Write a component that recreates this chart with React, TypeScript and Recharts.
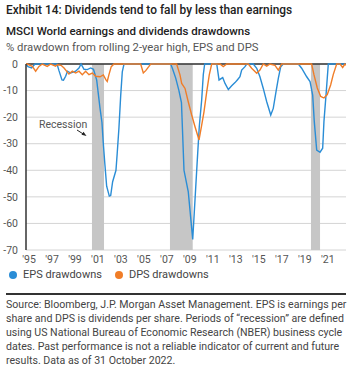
import React from "react";
import {
  LineChart,
  Line,
  XAxis,
  YAxis,
  CartesianGrid,
  ReferenceArea,
  ReferenceLine,
} from "recharts";

// decimal years
const epsYears = [
  1994.74, 1994.91, 1995.23, 1995.52, 1997.44, 1997.61, 1997.87, 1998.0, 1998.19,
  1998.35, 1998.63, 1999.06, 1999.35, 1999.53, 1999.79, 2000.07, 2000.37, 2000.61,
  2000.89, 2001.18, 2001.35, 2001.47, 2001.61, 2001.76, 2001.99, 2002.11, 2002.28,
  2002.57, 2002.68, 2002.83, 2002.98, 2003.12, 2003.27, 2007.33, 2007.47, 2007.77,
  2008.05, 2008.27, 2008.49, 2008.86, 2009.25, 2009.45, 2009.65, 2009.82, 2010.03,
  2010.17, 2010.29, 2011.34, 2011.54, 2011.86, 2012.06, 2012.35, 2012.64, 2012.93,
  2013.13, 2013.36, 2013.51, 2013.8, 2013.95, 2014.52, 2014.82, 2015.1, 2015.39,
  2015.69, 2016.04, 2016.26, 2016.5, 2016.7, 2016.91, 2017.13, 2018.44, 2018.73,
  2019.17, 2019.46, 2019.69, 2019.83, 2020.04, 2020.33, 2020.56, 2020.67, 2020.85,
  2021.05, 2022.59,
];
const epsValues = [
  0, -1, -1.5, 0, 0, -2.5, -6, -6.1, -4.6,
  -2.7, -3.4, -2.7, -1.5, 0, -2, -2.1, -1.5, -2,
  -6, -16.6, -22, -30, -38, -46, -49.7, -49.5, -44.3,
  -40, -33.5, -24, -12, -3, 0, 0, -1.5, -5.3,
  -10, -14.5, -40, -48, -66, -51, -36, -23.6, -13.5,
  -4, 0, 0, -6, -5.1, -7.3, -9.6, -8.2, -7,
  -6, -4.8, -2.3, -1, 0, 0, -1.6, -4.8, -9.2,
  -14.2, -19.2, -16.7, -10.4, -5.4, -1, 0, 0, -1.6,
  -4.8, -6.6, -11.7, -21.7, -32.4, -33.2, -31.7, -21.7, -11.7,
  0, 0,
];

const dpsYears = [
  1994.74, 1994.85, 1995.29, 1995.58, 1995.87, 1996.16, 1996.59, 1996.89, 1997.32,
  1997.46, 1997.79, 1998.05, 1998.48, 1998.77, 1999.06, 1999.35, 1999.64, 1999.93,
  2000.22, 2000.51, 2000.81, 2001.18, 2001.47, 2001.7, 2001.81, 2001.96, 2002.16,
  2002.4, 2004.72, 2004.95, 2005.16, 2005.44, 2005.59, 2007.85, 2008.14, 2008.29,
  2008.58, 2008.86, 2009.16, 2009.45, 2009.8, 2010.03, 2010.23, 2010.47, 2010.69,
  2010.9, 2011.62, 2011.91, 2012.21, 2014.09, 2014.38, 2014.82, 2015.1, 2015.39,
  2015.69, 2015.97, 2016.41, 2016.7, 2016.99, 2019.6, 2019.8, 2020.09, 2020.39,
  2020.67, 2020.96, 2021.26, 2021.48, 2021.78, 2022.07, 2022.3, 2022.5, 2022.59,
];
const dpsValues = [
  0, 0, -0.9, -2.7, -0.9, 0, -0.9, 0, -0.8,
  -0.3, -0.5, -1.5, -3.8, -2.7, -3.4, -2.7, -4, -2.7,
  -4, -3.4, -4.6, -4.8, -4.1, -6, -6.6, -4, -1,
  0, 0, -3.4, -2.5, -0.9, 0, 0, -4.1, -7.3,
  -9.2, -14.2, -19.2, -23.6, -28.6, -23, -18, -10.4, -4.1,
  0, 0, -1, 0, 0, -1.6, -3.5, -2.3, 0,
  -0.8, 0, -0.5, -2.3, 0, 0, -4, -9, -12.2,
  -12.8, -11.5, -7.8, -4, 0, 0, -1.3, 0, -0.5,
];

const recessionStart = [2000.48, 2007.27, 2019.54];
const recessionEnd = [2001.53, 2009.25, 2020.33];

const yearTicks = [1995, 1997, 1999, 2001, 2003, 2005, 2007, 2009, 2011, 2013, 2015, 2017, 2019, 2021];
const valueTicks = [-70, -60, -50, -40, -30, -20, -10, 0];

const footerLines = [
  "Source: Bloomberg, J.P. Morgan Asset Management. EPS is earnings per",
  "share and DPS is dividends per share. Periods of \u201crecession\u201d are defined",
  "using US National Bureau of Economic Research (NBER) business cycle",
  "dates. Past performance is not a reliable indicator of current and future",
  "results. Data as of 31 October 2022.",
];

const BLUE = "#2a8dd6";
const ORANGE = "#f07d28";
const FONT = "Roboto, 'Liberation Sans', Arial, sans-serif";

const epsData = epsYears.map((t, i) => ({ t, v: epsValues[i] }));
const dpsData = dpsYears.map((t, i) => ({ t, v: dpsValues[i] }));

export default function App() {
  return (
    <div style={{ position: "relative", width: 352, height: 367, background: "#fff", fontFamily: FONT, overflow: "hidden" }}>
      <style>{"body{margin:0}"}</style>
      <div style={{ position: "absolute", left: 6, top: 3, fontSize: 11.9, fontWeight: 500, color: "#222", whiteSpace: "nowrap" }}>
        Exhibit 14: Dividends tend to fall by less than earnings
      </div>
      <div style={{ position: "absolute", left: 6, top: 24, fontSize: 11.5, fontWeight: 500, color: "#222", whiteSpace: "nowrap" }}>
        MSCI World earnings and dividends drawdowns
      </div>
      <div style={{ position: "absolute", left: 6, top: 41, fontSize: 11.3, color: "#555", whiteSpace: "nowrap" }}>
        % drawdown from rolling 2-year high, EPS and DPS
      </div>

      <div style={{ position: "absolute", left: 0, top: 0 }}>
        <LineChart width={352} height={270} margin={{ top: 64, right: 6, bottom: 0, left: 0 }}>
          <CartesianGrid vertical={false} stroke="#d4d4d4" />
          {recessionStart.map((s, i) => (
            <ReferenceArea key={i} x1={s} x2={recessionEnd[i]} fill="#c6c6c6" fillOpacity={1} stroke="none" ifOverflow="hidden" />
          ))}
          <XAxis
            type="number"
            dataKey="t"
            domain={[1994.74, 2022.59]}
            ticks={yearTicks}
            allowDataOverflow
            tickFormatter={(y: number) => `'${String(y).slice(2)}`}
            tick={{ fontSize: 10.5, fill: "#555" }}
            tickLine={false}
            axisLine={false}
            height={20}
            tickSize={4}
          />
          <YAxis
            type="number"
            domain={[-70, 0]}
            ticks={valueTicks}
            tick={{ fontSize: 10.5, fill: "#555" }}
            tickLine={false}
            axisLine={{ stroke: "#333", strokeWidth: 1.5 }}
            width={26}
            tickMargin={2}
          />
          <ReferenceLine y={0} stroke="#333" strokeWidth={1.5} />
          <Line data={epsData} dataKey="v" type="linear" stroke={BLUE} strokeWidth={1.4} dot={false} isAnimationActive={false} />
          <Line data={dpsData} dataKey="v" type="linear" stroke={ORANGE} strokeWidth={1.4} dot={false} isAnimationActive={false} />
        </LineChart>
      </div>

      <div style={{ position: "absolute", left: 39, top: 118, fontSize: 10.5, color: "#555", whiteSpace: "nowrap" }}>Recession</div>
      <svg style={{ position: "absolute", left: 0, top: 0 }} width={352} height={367} pointerEvents="none">
        <line x1={77} y1={130} x2={84} y2={134.5} stroke="#222" strokeWidth={1} />
        <polygon points="86.5,136 81.5,134.8 83.5,131.8" fill="#222" />
      </svg>

      <div style={{ position: "absolute", left: 9, top: 268, display: "flex", alignItems: "center", fontSize: 11, color: "#444", whiteSpace: "nowrap" }}>
        <span style={{ width: 8, height: 8, borderRadius: 4, background: BLUE, display: "inline-block", marginRight: 6 }} />
        <span style={{ marginRight: 13 }}>EPS drawdowns</span>
        <span style={{ width: 8, height: 8, borderRadius: 4, background: ORANGE, display: "inline-block", marginRight: 6 }} />
        <span>DPS drawdowns</span>
      </div>

      <div style={{ position: "absolute", left: 6, top: 293, width: 340, height: 1.5, background: "#333" }} />
      <div style={{ position: "absolute", left: 6, top: 298, fontSize: 10.6, lineHeight: "14px", color: "#444" }}>
        {footerLines.map((l, i) => (
          <div key={i} style={{ whiteSpace: "nowrap" }}>{l}</div>
        ))}
      </div>
    </div>
  );
}
